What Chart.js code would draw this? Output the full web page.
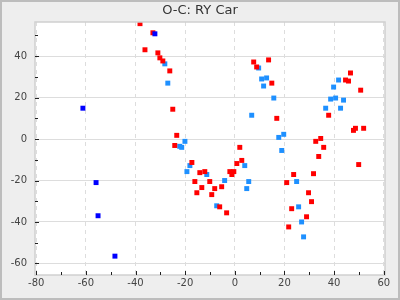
<!DOCTYPE html>
<html>
<head>
<meta charset="utf-8">
<script src="https://cdn.jsdelivr.net/npm/chart.js@4.4.1/dist/chart.umd.min.js"></script>
<style>
    body { margin: 0; background: #eeeeee; }
    #wrap { width: 400px; height: 300px; }
</style>
</head>
<body>
<div id="wrap"><canvas id="oc-chart" width="400" height="300"></canvas></div>
<script>
//  DATA

var redX = [-38.2, -33.0, -36.2, -31.0, -30.2, -29.0, -26.2, -25.0, -23.4, -24.2,
    -17.3, -14.1, -12.1, -16.1, -13.3, -15.3, -10.1, -8.1, -9.3, -5.3,
    -6.1, -3.3, -2.0, -0.4, -1.2, 2.0, 2.8, 0.8, 7.6, 13.6,
    8.8, 14.9, 16.9, 46.6, 44.6, 45.8, 50.7, 37.8, 48.6, 47.8,
    51.9, 34.6, 32.6, 35.8, 33.8, 49.9, 23.7, 31.7, 20.9, 29.7,
    30.9, 22.9, 28.9, 21.7];
var redY = [55.7, 51.3, 43.1, 41.6, 39.2, 37.7, 32.9, 14.4, 1.8, -3.1,
    -11.3, -16.2, -15.7, -20.5, -23.4, -25.9, -20.5, -23.9, -26.8, -23.0,
    -32.7, -35.6, -15.7, -15.7, -17.1, -4.0, -10.3, -11.8, 37.2, 38.2,
    34.8, 27.0, 10.0, 31.9, 28.5, 28.0, 23.6, 11.5, 5.2, 4.2,
    5.2, 0.3, -1.1, -4.0, -8.4, -12.3, -17.1, -16.7, -21.0, -25.9,
    -30.2, -33.6, -37.5, -42.4];

var blueX = [-28.2, -27.0, -20.1, -22.2, -21.4, -18.1, -19.3, -11.3, -4.1, -7.3,
    4.0, 5.6, 4.8, 9.6, 10.8, 12.8, 11.6, 15.7, 6.8, 19.7,
    17.7, 41.8, 39.8, 38.6, 40.6, 43.8, 36.6, 42.6, 18.9, 24.9,
    25.7, 26.9, 27.7];
var blueY = [36.3, 27.0, -1.1, -3.5, -4.0, -12.8, -15.7, -17.1, -20.0, -32.2,
    -12.8, -20.5, -23.9, 34.3, 29.0, 29.5, 25.6, 19.8, 11.5, 2.3,
    0.8, 28.5, 25.1, 19.3, 19.8, 18.8, 14.9, 14.9, -5.5, -20.5,
    -32.7, -40.0, -47.2];

var navyX = [-61.2, -55.9, -55.1, -48.3, -32.2];
var navyY = [14.9, -21.0, -37.0, -56.5, 50.8];

var xTicks = [-80, -60, -40, -20, 0, 20, 40, 60];
var yTicks = [-60, -40, -20, 0, 20, 40];

function toPoints(xs, ys) {
    var pts = [];
    for (var i = 0; i < xs.length; i++) {
        pts.push({ x: xs[i], y: ys[i] });
    }
    return pts;
}

//  BACKGROUND, FRAME, TITLE, INWARD TICK MARKS
var decor = {
    id: 'decor',
    beforeDraw: function(chart) {
        var c = chart.ctx, a = chart.chartArea;
        c.save();
        c.fillStyle = '#eeeeee';
        c.fillRect(0, 0, chart.width, chart.height);
        c.fillStyle = '#ffffff';
        c.fillRect(a.left, a.top, a.right - a.left, a.bottom - a.top);
        c.restore();
    },
    afterDraw: function(chart) {
        var c = chart.ctx, a = chart.chartArea;
        var xs = chart.scales.x, ys = chart.scales.y;
        c.save();
        c.strokeStyle = '#d0d0d0';
        c.lineWidth = 1.5;
        c.strokeRect(a.left, a.top, a.right - a.left, a.bottom - a.top);

        c.strokeStyle = '#222222';
        c.lineWidth = 1;
        c.beginPath();
        for (var v = -80; v <= 60; v += 10) {
            var px = Math.round(xs.getPixelForValue(v)) + 0.5;
            var len = (v % 20 === 0) ? 4 : 3;
            c.moveTo(px, a.bottom);
            c.lineTo(px, a.bottom - len);
        }
        for (var w = -60; w <= 50; w += 10) {
            var py = Math.round(ys.getPixelForValue(w)) + 0.5;
            var len2 = (w % 20 === 0) ? 4 : 3;
            c.moveTo(a.left, py);
            c.lineTo(a.left + len2, py);
        }
        c.stroke();

        c.fillStyle = '#333333';
        c.font = '13px "DejaVu Sans"';
        c.textAlign = 'center';
        c.textBaseline = 'middle';
        c.fillText('O-C: RY Car', 200, 11);

        c.strokeStyle = '#bdbdbd';
        c.lineWidth = 2;
        c.strokeRect(1, 1, chart.width - 2, chart.height - 2);
        c.restore();
    }
};

var ctx = document.querySelector('#oc-chart');
var ocChart = new Chart(
    ctx, {
        type: 'scatter',
        data: {
            datasets: [{
                label: 'navy',
                data: toPoints(navyX, navyY),
                backgroundColor: '#0000ff',
                pointStyle: 'rect',
                pointRadius: 3.5,
                borderWidth: 0
            },
            {
                label: 'red',
                data: toPoints(redX, redY),
                backgroundColor: '#ff0000',
                pointStyle: 'rect',
                pointRadius: 3.5,
                borderWidth: 0
            },
            {
                label: 'blue',
                data: toPoints(blueX, blueY),
                backgroundColor: '#1e90ff',
                pointStyle: 'rect',
                pointRadius: 3.5,
                borderWidth: 0
            }]
        },
        options: {
            responsive: false,
            animation: false,
            layout: {
                padding: { top: 22, right: 15, bottom: 0, left: 0 }
            },
            plugins: {
                legend: { display: false },
                title: { display: false },
                tooltip: { enabled: false }
            },
            scales: {
                x: {
                    type: 'linear',
                    min: -80.5,
                    max: 60.5,
                    afterBuildTicks: function(scale) {
                        scale.ticks = xTicks.map(function(v) { return { value: v }; });
                    },
                    afterFit: function(scale) { scale.height = 25; },
                    ticks: {
                        color: '#444444',
                        padding: 2,
                        maxRotation: 0,
                        font: { size: 10, family: 'DejaVu Sans' }
                    },
                    grid: {
                        color: '#dddddd',
                        drawTicks: false
                    },
                    border: {
                        display: false,
                        dash: [4, 4]
                    }
                },
                y: {
                    type: 'linear',
                    min: -65.6,
                    max: 56.5,
                    afterBuildTicks: function(scale) {
                        scale.ticks = yTicks.map(function(v) { return { value: v }; });
                    },
                    afterFit: function(scale) { scale.width = 35; },
                    ticks: {
                        color: '#444444',
                        padding: 8,
                        font: { size: 10, family: 'DejaVu Sans' }
                    },
                    grid: {
                        color: '#dddddd',
                        drawTicks: false
                    },
                    border: {
                        display: false
                    }
                }
            }
        },
        plugins: [decor]
    }
);
</script>
</body>
</html>
